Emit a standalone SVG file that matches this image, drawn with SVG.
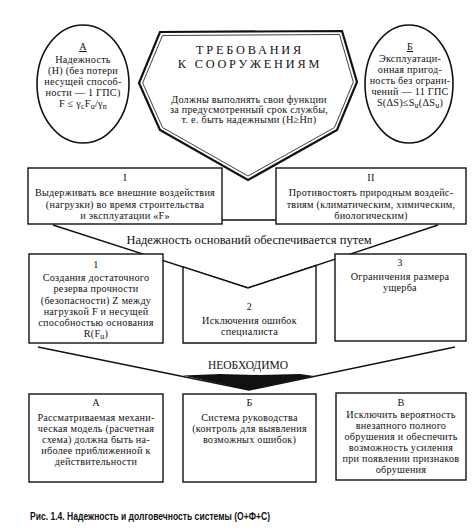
<svg xmlns="http://www.w3.org/2000/svg" width="474" height="532" viewBox="0 0 474 532">
<style>
text{font-family:"Liberation Serif","DejaVu Serif",serif;fill:#111;text-anchor:middle}
.t{font-size:10.2px;letter-spacing:0.25px}
.h{font-size:12.3px;letter-spacing:2.8px}
.box{fill:#fff;stroke:#111;stroke-width:1.4}
.ln{fill:none;stroke:#111;stroke-width:1.4}
.ell{fill:#fff;stroke:#111;stroke-width:1.6}
.cap{font-family:"Liberation Sans","DejaVu Sans",sans-serif;font-size:10px;font-weight:bold;text-anchor:start}
</style>
<rect width="474" height="532" fill="#fff"/>

<g id="connectors">
  <polyline class="ln" points="53,225 248,288 438,225"/>
  <line class="ln" x1="222" y1="220" x2="276" y2="220"/>
  <polyline class="ln" points="38,347 249,390 455,347"/>
  <polygon points="183,375.5 249,390 314,376 300,374 260,375 220,374" fill="#111"/>
</g>

<g id="main">
  <polygon points="160,32 342,31 357,82 337,130 248,180 160,130 139,83" fill="#fff" stroke="#111" stroke-width="2.2" stroke-linejoin="miter"/>
  <polygon points="162.5,35.5 339.5,34.5 353.3,82 334.5,127.5 248,176 162.5,127.5 142.7,83" fill="none" stroke="#111" stroke-width="0.8"/>
  <text class="h" x="250" y="54">ТРЕБОВАНИЯ</text>
  <text class="h" x="250" y="68">К СООРУЖЕНИЯМ</text>
  <text class="t" x="249" y="103">Должны выполнять свои функции</text>
  <text class="t" x="249" y="113">за предусмотренный срок службы,</text>
  <text class="t" x="249" y="123">т. е. быть надежными (Н≥Нп)</text>
</g>

<g id="ellipseA">
  <ellipse class="ell" cx="83" cy="84" rx="46" ry="59"/>
  <text class="t" x="83" y="50" text-decoration="underline">А</text>
  <text class="t" x="83" y="63">Надежность</text>
  <text class="t" x="83" y="74">(Н) (без потери</text>
  <text class="t" x="83" y="85">несущей способ-</text>
  <text class="t" x="83" y="96">ности — 1 ГПС)</text>
  <text class="t" x="83" y="107">F ≤ γ<tspan font-size="8" dy="2">c</tspan><tspan dy="-2">F</tspan><tspan font-size="8" dy="2">u</tspan><tspan dy="-2">/γ</tspan><tspan font-size="8" dy="2">n</tspan></text>
</g>

<g id="ellipseB">
  <ellipse class="ell" cx="409" cy="84" rx="44" ry="59"/>
  <text class="t" x="410" y="50" text-decoration="underline">Б</text>
  <text class="t" x="410" y="62">Эксплуатаци-</text>
  <text class="t" x="410" y="73">онная пригод-</text>
  <text class="t" x="410" y="84">ность без ограни-</text>
  <text class="t" x="410" y="95">чений — 11 ГПС</text>
  <text class="t" x="410" y="106">S(ΔS)≤S<tspan font-size="8" dy="2">u</tspan><tspan dy="-2">(ΔS</tspan><tspan font-size="8" dy="2">u</tspan><tspan dy="-2">)</tspan></text>
</g>

<g id="boxI">
  <rect class="box" x="28" y="168" width="194" height="56"/>
  <text class="t" x="125" y="181">I</text>
  <text class="t" x="125" y="196">Выдерживать все внешние воздействия</text>
  <text class="t" x="125" y="207.5">(нагрузки) во время строительства</text>
  <text class="t" x="125" y="219">и эксплуатации «F»</text>
</g>

<g id="boxII">
  <rect class="box" x="276" y="168" width="190" height="56"/>
  <text class="t" x="371" y="181">II</text>
  <text class="t" x="371" y="196">Противостоять природным воздейс-</text>
  <text class="t" x="371" y="207.5">твиям (климатическим, химическим,</text>
  <text class="t" x="371" y="219">биологическим)</text>
</g>

<text x="249" y="244" font-size="12.5">Надежность оснований обеспечивается путем</text>

<g id="box1">
  <rect class="box" x="29" y="254" width="134" height="89"/>
  <text class="t" x="96" y="268">1</text>
  <text class="t" x="96" y="281">Создания достаточного</text>
  <text class="t" x="96" y="292">резерва прочности</text>
  <text class="t" x="96" y="303.5">(безопасности) Z между</text>
  <text class="t" x="96" y="315">нагрузкой F и несущей</text>
  <text class="t" x="96" y="326">способностью основания</text>
  <text class="t" x="96" y="337">R(F<tspan font-size="8" dy="2">u</tspan><tspan dy="-2">)</tspan></text>
</g>

<g id="box2">
  <polygon class="box" points="183,266.8 248,288 316,265.5 316,343 183,343" fill="none"/>
  <text class="t" x="249.5" y="310">2</text>
  <text class="t" x="249.5" y="323.5">Исключения ошибок</text>
  <text class="t" x="249.5" y="334.5">специалиста</text>
</g>

<g id="box3">
  <rect class="box" x="335" y="254" width="131" height="87"/>
  <text class="t" x="400" y="266">3</text>
  <text class="t" x="400" y="280">Ограничения размера</text>
  <text class="t" x="400" y="291">ущерба</text>
</g>

<text x="248" y="369" font-size="11.5">НЕОБХОДИМО</text>

<g id="boxA">
  <rect class="box" x="29" y="394" width="134" height="88"/>
  <text class="t" x="96" y="406">А</text>
  <text class="t" x="96" y="420.5">Рассматриваемая механи-</text>
  <text class="t" x="96" y="431.5">ческая модель (расчетная</text>
  <text class="t" x="96" y="442.5">схема) должна быть на-</text>
  <text class="t" x="96" y="453.5">иболее приближенной к</text>
  <text class="t" x="96" y="464.5">действительности</text>
</g>

<g id="boxB">
  <rect class="box" x="183" y="394" width="133" height="88"/>
  <text class="t" x="249.5" y="406">Б</text>
  <text class="t" x="249.5" y="420.5">Система руководства</text>
  <text class="t" x="249.5" y="431.5">(контроль для выявления</text>
  <text class="t" x="249.5" y="442.5">возможных ошибок)</text>
</g>

<g id="boxV">
  <rect class="box" x="336" y="393" width="130" height="87"/>
  <text class="t" x="401" y="406">В</text>
  <text class="t" x="401" y="418">Исключить вероятность</text>
  <text class="t" x="401" y="429">внезапного полного</text>
  <text class="t" x="401" y="440">обрушения и обеспечить</text>
  <text class="t" x="401" y="451">возможность усиления</text>
  <text class="t" x="401" y="462">при появлении признаков</text>
  <text class="t" x="401" y="473">обрушения</text>
</g>

<text class="cap" x="30" y="520" textLength="240" lengthAdjust="spacingAndGlyphs">Рис. 1.4. Надежность и долговечность системы (О+Ф+С)</text>
</svg>
